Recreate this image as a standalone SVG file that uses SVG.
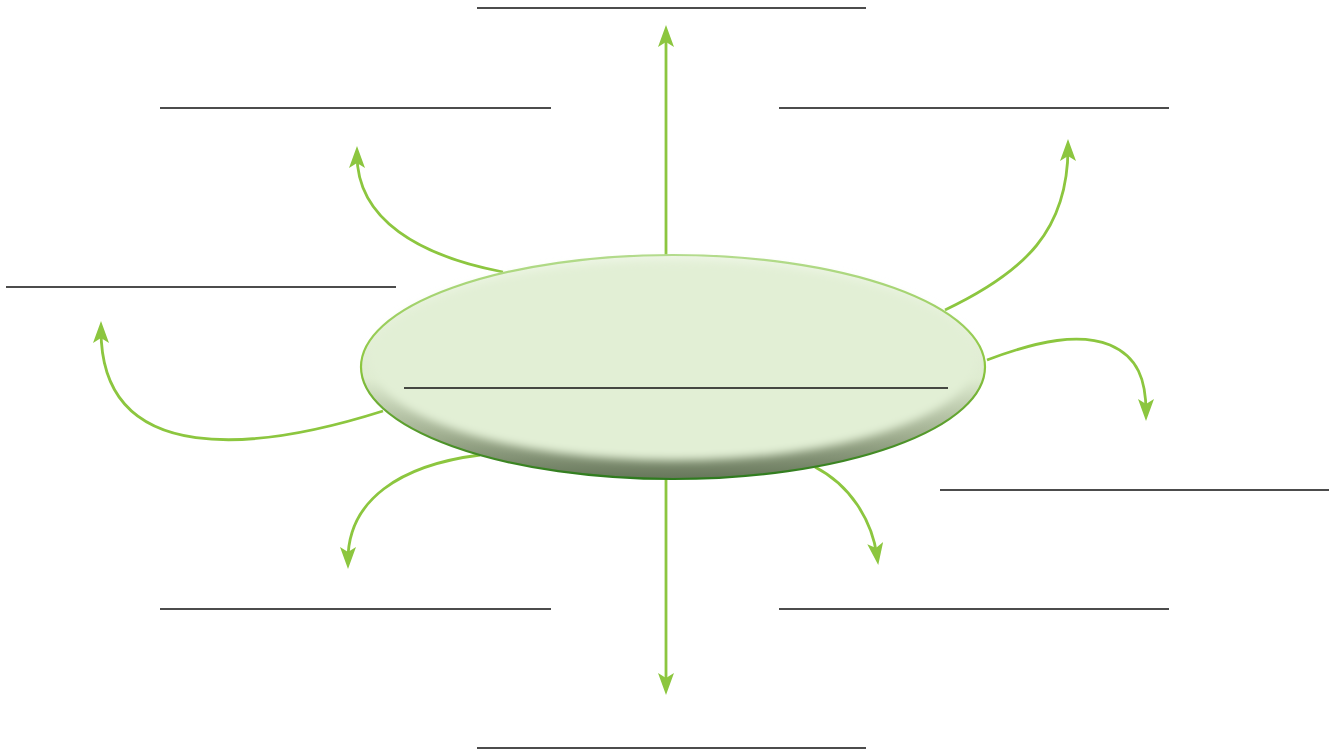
<svg xmlns="http://www.w3.org/2000/svg" width="1335" height="753" viewBox="0 0 1335 753">
<style>
.rule{stroke:#111;stroke-width:1.4;fill:none}
.conn{stroke:#8cc63f;stroke-width:2.8;fill:none;marker-end:url(#ah)}
</style>
<defs>
<marker id="ah" markerUnits="userSpaceOnUse" markerWidth="22" markerHeight="16" viewBox="0 0 22 16" refX="13" refY="8" orient="auto">
<path d="M0,0 L22,8 L0,16 L5,8 Z" fill="#8cc63f"/>
</marker>
<linearGradient id="body" x1="0" y1="0" x2="0" y2="1">
<stop offset="0" stop-color="#eef6e6"/>
<stop offset="0.55" stop-color="#dfecd1"/>
<stop offset="0.8" stop-color="#a2b092"/>
<stop offset="1" stop-color="#66765a"/>
</linearGradient>
<linearGradient id="rim" x1="0" y1="0" x2="0" y2="1">
<stop offset="0" stop-color="#b3db8c"/>
<stop offset="0.5" stop-color="#8cc63f"/>
<stop offset="1" stop-color="#2e7a1e"/>
</linearGradient>
<filter id="soft" x="-10%" y="-20%" width="120%" height="140%">
<feGaussianBlur stdDeviation="4"/>
</filter>
</defs>
<g id="connectors">
<path class="conn" d="M666,262 L666,34"/>
<path class="conn" d="M666,455 L666,686"/>
<path class="conn" d="M503,272 C420,256 357,220 357,155"/>
<path class="conn" d="M383,411 C260,450 101,470 101,330"/>
<path class="conn" d="M945,310 C1025,272 1068,230 1068,148"/>
<path class="conn" d="M987,360 C1040,340 1080,333 1110,345 C1138,357 1146,380 1146,412"/>
<path class="conn" d="M480,455 C400,465 348,500 348,560"/>
<path class="conn" d="M815,467 C850,485 872,520 877,556"/>
</g>
<g id="center">
<ellipse cx="673" cy="367" rx="312" ry="112" fill="url(#body)"/>
<ellipse cx="673" cy="360" rx="302" ry="100" fill="#e2efd5" filter="url(#soft)"/>
<ellipse cx="673" cy="367" rx="312" ry="112" fill="none" stroke="url(#rim)" stroke-width="2.2"/>
<line class="rule" x1="404" y1="388" x2="948" y2="388"/>
</g>
<g id="n-top"><line class="rule" x1="477" y1="8" x2="866" y2="8"/></g>
<g id="n-upper-left"><line class="rule" x1="160" y1="108" x2="551" y2="108"/></g>
<g id="n-upper-right"><line class="rule" x1="779" y1="108" x2="1169" y2="108"/></g>
<g id="n-left"><line class="rule" x1="6" y1="287" x2="396" y2="287"/></g>
<g id="n-right"><line class="rule" x1="940" y1="490" x2="1329" y2="490"/></g>
<g id="n-lower-left"><line class="rule" x1="160" y1="609" x2="551" y2="609"/></g>
<g id="n-lower-right"><line class="rule" x1="779" y1="609" x2="1169" y2="609"/></g>
<g id="n-bottom"><line class="rule" x1="477" y1="748" x2="866" y2="748"/></g>
</svg>
